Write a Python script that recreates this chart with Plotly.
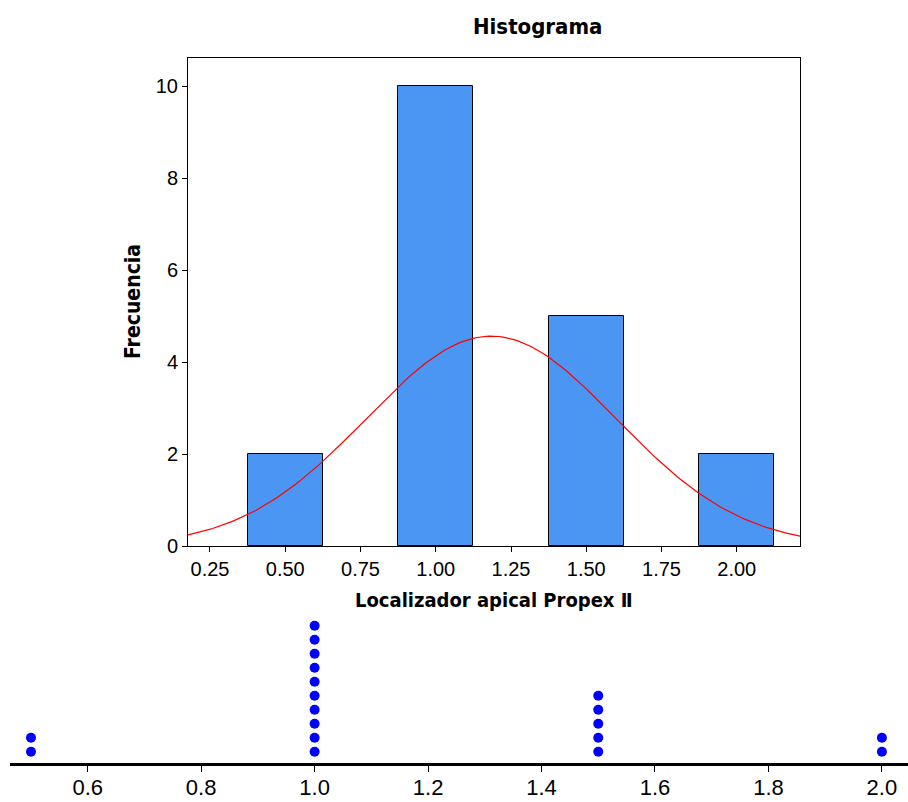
import numpy as np
import plotly.graph_objects as go

# ---- data ----
bin_centers = [0.5, 1.0, 1.5, 2.0]
counts = [2, 10, 5, 2]
bin_width = 0.25
hist_ticks = [0.25, 0.50, 0.75, 1.00, 1.25, 1.50, 1.75, 2.00]
y_ticks = [0, 2, 4, 6, 8, 10]
dot_ticks = [0.6, 0.8, 1.0, 1.2, 1.4, 1.6, 1.8, 2.0]

W, H = 908, 802

# observations derived from histogram counts
obs = np.repeat(bin_centers, counts)
n = len(obs)
mu = obs.mean()
sd = obs.std(ddof=1)

xmin, xmax = 0.177, 2.21
xs = np.linspace(xmin, xmax, 200)
ys = n * bin_width / (sd * np.sqrt(2 * np.pi)) * np.exp(-(xs - mu) ** 2 / (2 * sd ** 2))

# dot plot stacks
dot_x, dot_y = [], []
for c, k in zip(bin_centers, counts):
    for i in range(k):
        dot_x.append(c)
        dot_y.append(i + 0.8)

fig = go.Figure()
fig.add_trace(go.Bar(x=bin_centers, y=counts, width=bin_width,
                     marker=dict(color="rgb(74,150,242)", line=dict(color="black", width=1)),
                     xaxis="x", yaxis="y", showlegend=False))
fig.add_trace(go.Scatter(x=xs, y=ys, mode="lines", line=dict(color="red", width=1.2),
                         xaxis="x", yaxis="y", showlegend=False))
fig.add_trace(go.Scatter(x=dot_x, y=dot_y, mode="markers",
                         marker=dict(color="rgb(0,0,255)", size=10, line=dict(width=0)),
                         xaxis="x2", yaxis="y2", showlegend=False))

def px(v):
    return v / W

def py(v):
    return 1 - v / H

tick_font = dict(family="Liberation Sans, Arial, sans-serif", size=20, color="black")
bold_font = "DejaVu Sans Condensed, Tahoma, sans-serif"

fig.update_layout(
    width=W, height=H,
    margin=dict(l=0, r=0, t=0, b=0),
    paper_bgcolor="white", plot_bgcolor="white",
    bargap=0,
    xaxis=dict(domain=[px(188), px(800)], range=[xmin, xmax],
               tickvals=hist_ticks, tickformat=".2f",
               ticks="outside", ticklen=5, tickcolor="black",
               showline=True, linecolor="black", linewidth=1, mirror=True,
               showgrid=False, zeroline=False, tickfont=tick_font,
               automargin=False, anchor="y"),
    yaxis=dict(domain=[py(546), py(58)], range=[0, 10.61],
               tickvals=y_ticks, ticks="outside", ticklen=5, tickcolor="black",
               showline=True, linecolor="black", linewidth=1, mirror=True,
               showgrid=False, zeroline=False, tickfont=tick_font,
               automargin=False, anchor="x"),
    xaxis2=dict(domain=[px(10), 1.0], range=[0.463, 2.046],
                tickvals=dot_ticks, tickformat=".1f",
                ticks="outside", ticklen=6, tickcolor="black", tickwidth=1,
                showline=True, linecolor="black", linewidth=2.5,
                showgrid=False, zeroline=False, ticklabelstandoff=-3,
                tickfont=dict(family="Liberation Sans, Arial, sans-serif", size=22, color="black"),
                automargin=False, anchor="y2"),
    yaxis2=dict(domain=[py(763), py(609)], range=[0, 11],
                visible=False, showgrid=False, zeroline=False,
                automargin=False, anchor="x2"),
    annotations=[
        dict(text="<b>Histograma</b>", x=px(537), y=py(27), xref="paper", yref="paper",
             showarrow=False, font=dict(family=bold_font, size=22, color="black"),
             xanchor="center", yanchor="middle"),
        dict(text="<b>Localizador apical Propex Ⅱ</b>", x=px(494), y=py(600), xref="paper", yref="paper",
             showarrow=False, font=dict(family=bold_font, size=20, color="black"),
             xanchor="center", yanchor="middle"),
        dict(text="<b>Frecuencia</b>", x=px(133), y=py(302), xref="paper", yref="paper",
             showarrow=False, textangle=-90, font=dict(family=bold_font, size=21, color="black"),
             xanchor="center", yanchor="middle"),
    ],
)

fig.write_html("out.html")
